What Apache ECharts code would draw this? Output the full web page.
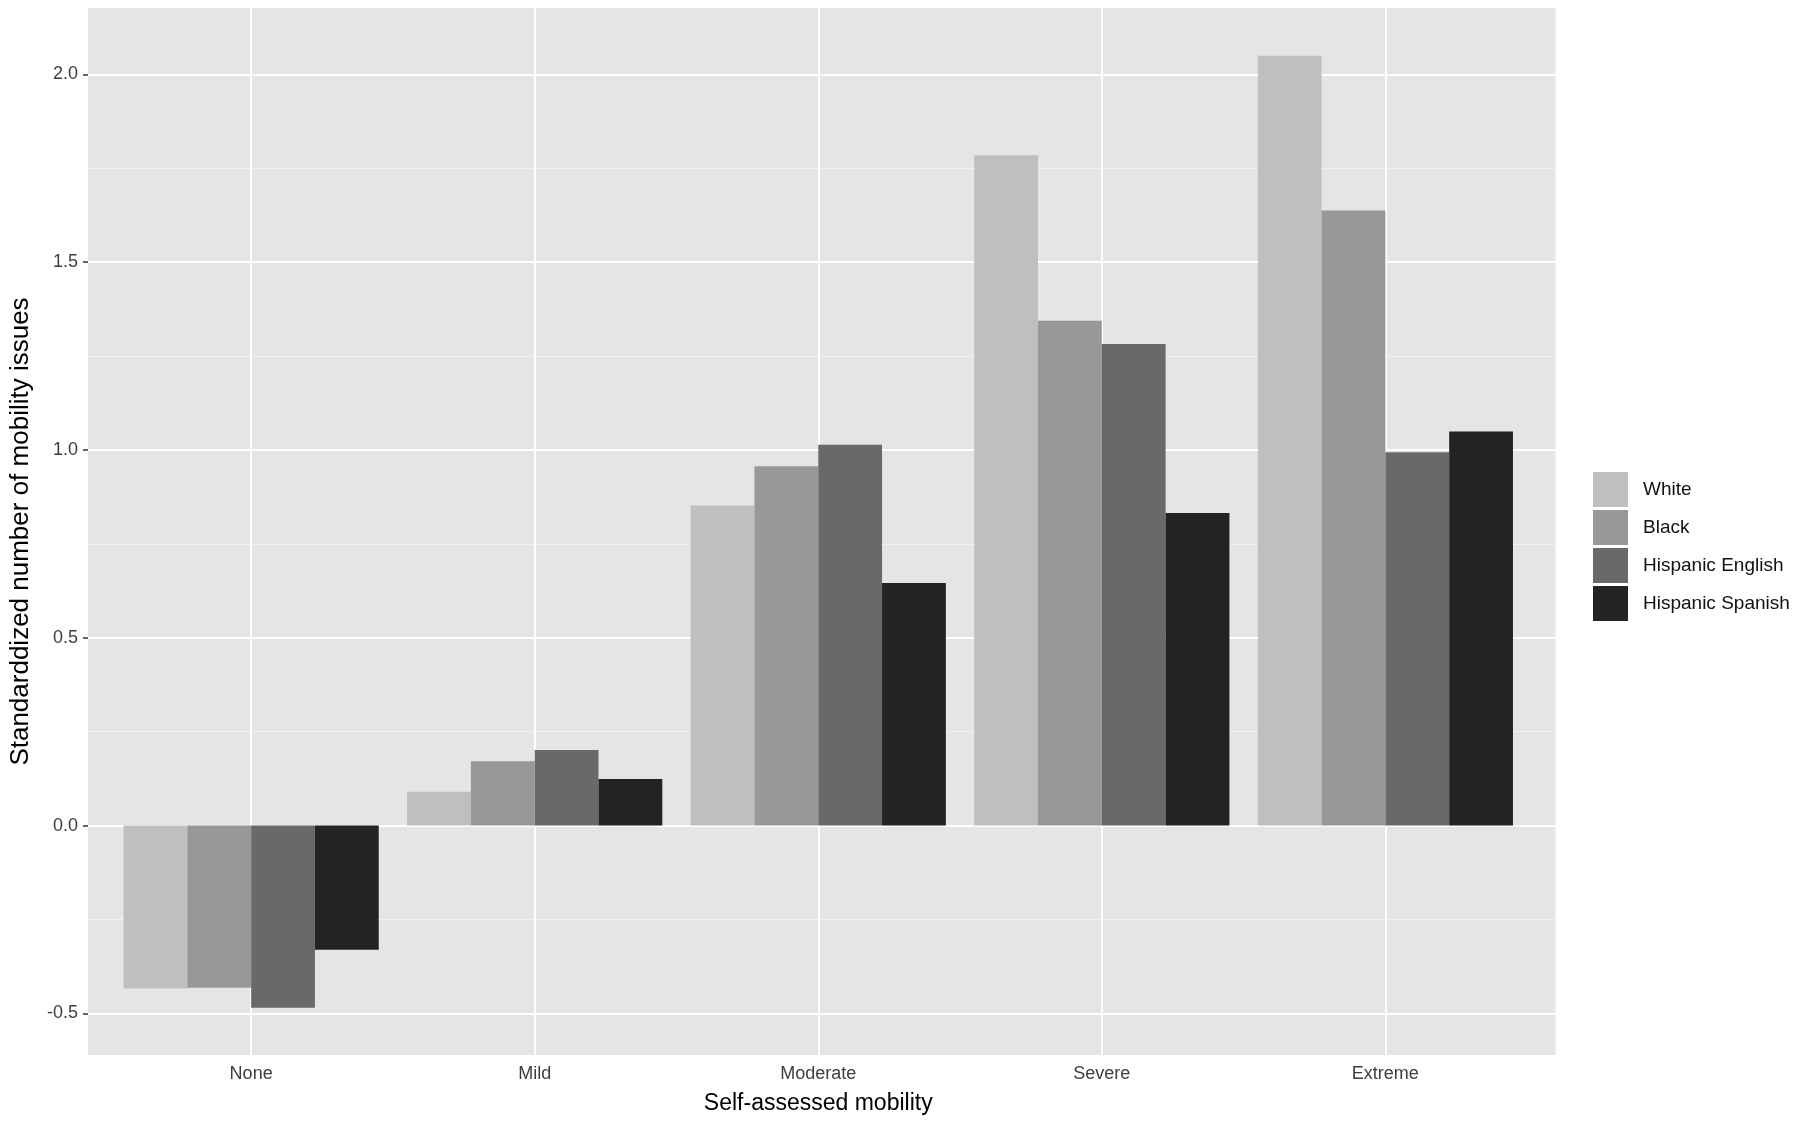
<!DOCTYPE html>
<html>
<head>
<meta charset="utf-8">
<script src="https://cdn.jsdelivr.net/npm/echarts@6/dist/echarts.min.js"></script>
<style>
html,body{margin:0;padding:0;background:#fff;}
#chart{width:1800px;height:1123px;}
</style>
</head>
<body>
<div id="chart"></div>
<script>
// ---- data ----
const categories = ['None', 'Mild', 'Moderate', 'Severe', 'Extreme'];
const seriesNames = ['White', 'Black', 'Hispanic English', 'Hispanic Spanish'];
const whiteVals = [-0.434, 0.090, 0.852, 1.785, 2.050];
const blackVals = [-0.432, 0.171, 0.957, 1.344, 1.638];
const hispEnglishVals = [-0.485, 0.201, 1.014, 1.282, 0.994];
const hispSpanishVals = [-0.331, 0.124, 0.646, 0.832, 1.049];
const yTicks = [-0.5, 0, 0.5, 1.0, 1.5, 2.0];
const yMinorTicks = [-0.25, 0.25, 0.75, 1.25, 1.75];
const yMin = -0.611, yMax = 2.177;

const colors = ['#bfbfbf', '#989898', '#696969', '#232323'];
const allVals = [whiteVals, blackVals, hispEnglishVals, hispSpanishVals];

const font = '"Liberation Sans", Arial, Helvetica, sans-serif';
const chart = echarts.init(document.getElementById('chart'), null, {renderer: 'canvas'});

const panel = {left: 81, top: 8, width: 1474.5, height: 1047};
const step = panel.width / 5.2;
const inner = {left: panel.left + 0.6 * step - 0.5 * step, top: panel.top, width: 5 * step, height: panel.height};

const barSeries = seriesNames.map((n, i) => ({
  name: n,
  type: 'bar',
  xAxisIndex: 1,
  yAxisIndex: 1,
  data: allVals[i],
  barGap: '0%',
  barCategoryGap: '10%',
  itemStyle: {color: colors[i]},
  z: 2
}));

const option = {
  animation: false,
  backgroundColor: '#ffffff',
  grid: [
    {left: panel.left, top: panel.top, width: panel.width, height: panel.height, show: true, backgroundColor: '#e5e5e5', borderWidth: 0},
    {left: inner.left, top: inner.top, width: inner.width, height: inner.height, show: false}
  ],
  xAxis: [
    {type: 'value', gridIndex: 0, min: 0, max: 1, show: false},
    {type: 'category', gridIndex: 1, data: categories,
     axisLine: {show: false},
     axisTick: {show: true, alignWithLabel: true, length: 5, lineStyle: {color: '#333', width: 1.5}},
     axisLabel: {color: '#3d3d3d', fontSize: 18, fontFamily: font, margin: 10},
     splitLine: {show: false},
     name: 'Self-assessed mobility', nameLocation: 'middle', nameGap: 37,
     nameTextStyle: {color: '#000', fontSize: 23, fontFamily: font}
    }
  ],
  yAxis: [
    {type: 'value', gridIndex: 0, min: yMin, max: yMax,
     axisLine: {show: false},
     axisTick: {show: true, length: 5, customValues: yTicks, lineStyle: {color: '#333', width: 1.5}},
     axisLabel: {show: true, customValues: yTicks, color: '#3d3d3d', fontSize: 18, fontFamily: font, margin: 10,
                 formatter: v => v.toFixed(1)},
     splitLine: {show: false},
     name: 'Standarddized number of mobility issues', nameLocation: 'middle', nameGap: 54, nameRotate: 90,
     nameTextStyle: {color: '#000', fontSize: 26, fontFamily: font}
    },
    {type: 'value', gridIndex: 1, min: yMin, max: yMax, show: false, splitLine: {show: false}}
  ],
  legend: {
    orient: 'vertical', left: 1588, top: 467,
    itemWidth: 35, itemHeight: 35, itemGap: 3,
    icon: 'rect',
    data: seriesNames,
    textStyle: {color: '#111', fontSize: 19, fontFamily: font, padding: [0, 0, 0, 10]}
  },
  series: [
    {type: 'line', xAxisIndex: 0, yAxisIndex: 0, data: [], silent: true,
     markLine: {silent: true, symbol: 'none', z: 1, animation: false,
       label: {show: false},
       emphasis: {disabled: true},
       data: yTicks.map(v => ({yAxis: v, lineStyle: {color: '#ffffff', width: 2, type: 'solid'}}))
         .concat(yMinorTicks.map(v => ({yAxis: v, lineStyle: {color: '#f2f2f2', width: 1, type: 'solid'}})))
     }},
    {type: 'line', xAxisIndex: 1, yAxisIndex: 1, data: [], silent: true,
     markLine: {silent: true, symbol: 'none', z: 1, animation: false,
       label: {show: false},
       emphasis: {disabled: true},
       data: categories.map(c => ({xAxis: c, lineStyle: {color: '#ffffff', width: 2, type: 'solid'}}))
     }}
  ].concat(barSeries)
};
chart.setOption(option);
</script>
</body>
</html>
